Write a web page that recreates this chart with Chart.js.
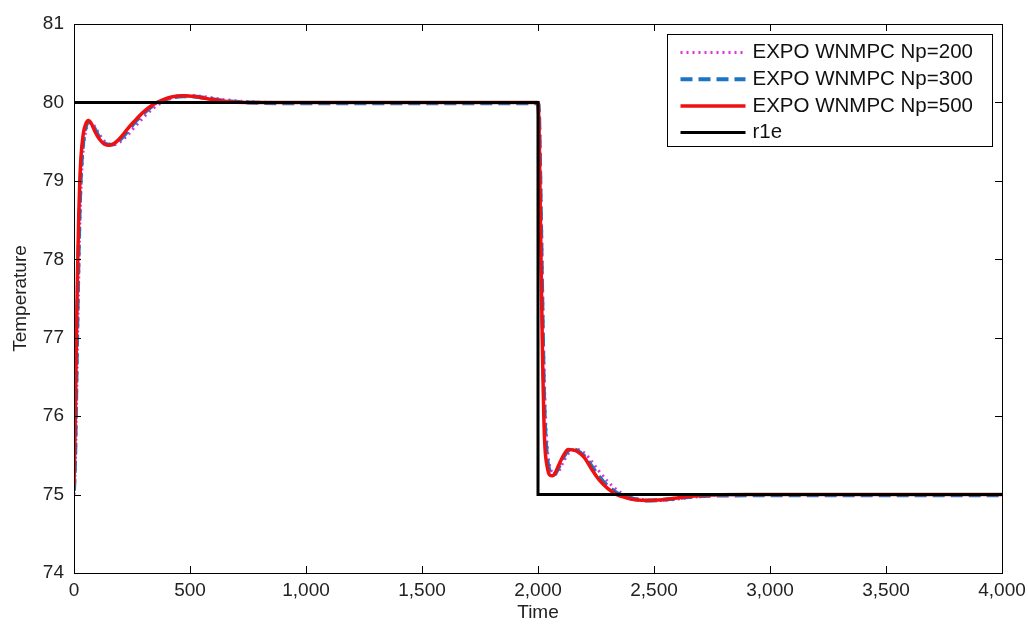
<!DOCTYPE html>
<html><head><meta charset="utf-8">
<script src="https://cdn.jsdelivr.net/npm/chart.js@4.4.1/dist/chart.umd.min.js"></script>
<style>html,body{margin:0;padding:0;background:#fff;}#wrap{width:1028px;height:624px;}</style>
</head><body><div id="wrap"><canvas id="c" width="1028" height="624"></canvas></div>
<script>
// ---- data ----
const time = [0,5,10,15,20,25,30,40,50,62,75,90,110,130,150,170,200,230,260,300,340,380,420,470,520,580,650,750,900,1200,1600,1990,
  2000,2005,2010,2015,2020,2025,2030,2040,2050,2062,2075,2090,2110,2130,2150,2170,2200,2230,2260,2300,2340,2380,2420,2470,2520,2580,2650,2750,2900,3200,3600,4000];
const np200 = [75.0,75.3,76.0,76.9,77.7,78.4,78.9,79.4,79.62,79.72,79.74,79.69,79.59,79.51,79.47,79.46,79.5,79.58,79.68,79.81,79.92,80.0,80.05,80.08,80.085,80.065,80.035,80.01,80.0,80.0,80.0,80.0,
  80.0,79.9,79.3,78.5,77.6,76.8,76.2,75.6,75.37,75.28,75.26,75.3,75.42,75.52,75.57,75.575,75.53,75.43,75.31,75.17,75.06,74.99,74.95,74.93,74.925,74.935,74.96,74.99,75.0,75.0,75.0,75.0];
const np300 = [75.05,75.5,76.4,77.3,78.1,78.7,79.1,79.5,79.68,79.75,79.74,79.66,79.55,79.48,79.46,79.465,79.53,79.63,79.74,79.86,79.96,80.02,80.06,80.08,80.075,80.05,80.02,80.0,79.99,79.99,79.99,79.99,
  79.99,79.8,79.0,78.1,77.2,76.4,75.9,75.45,75.3,75.25,75.27,75.35,75.48,75.56,75.575,75.56,75.49,75.37,75.24,75.11,75.02,74.97,74.94,74.925,74.93,74.945,74.97,74.985,74.99,74.99,74.99,74.99];
const np500 = [75.1,75.9,76.9,77.8,78.5,79.0,79.3,79.6,79.72,79.77,79.73,79.63,79.53,79.47,79.455,79.47,79.55,79.66,79.76,79.88,79.97,80.03,80.07,80.085,80.075,80.045,80.015,80.0,80.0,80.0,80.0,80.0,
  80.0,79.6,78.6,77.6,76.7,76.0,75.6,75.35,75.25,75.24,75.28,75.38,75.5,75.575,75.57,75.55,75.47,75.33,75.2,75.08,75.0,74.96,74.935,74.925,74.93,74.95,74.975,74.995,75.0,75.0,75.0,75.0];
const refTime = [0,2000,2000,4000];
const refValue = [80,80,75,75];
const seriesNames = ['EXPO WNMPC Np=200','EXPO WNMPC Np=300','EXPO WNMPC Np=500','r1e'];
const xTicks = [0,500,1000,1500,2000,2500,3000,3500,4000];
const yTicks = [74,75,76,77,78,79,80,81];

const FONT = '"Liberation Sans", Arial, Helvetica, sans-serif';
const pts = (xs, ys) => xs.map((x, i) => ({x, y: ys[i]}));

const boxTicksPlugin = {
  id: 'boxTicks',
  afterDatasetsDraw(chart) {
    const {ctx, chartArea: a, scales: {x, y}} = chart;
    ctx.save();
    ctx.strokeStyle = '#000'; ctx.lineWidth = 1;
    ctx.strokeRect(Math.round(a.left) + 0.5, Math.round(a.top) + 0.5, Math.round(a.right - a.left), Math.round(a.bottom - a.top));
    const L = 7;
    ctx.beginPath();
    xTicks.forEach(v => {
      const px = Math.round(x.getPixelForValue(v)) + 0.5;
      ctx.moveTo(px, a.bottom); ctx.lineTo(px, a.bottom - L);
      ctx.moveTo(px, a.top); ctx.lineTo(px, a.top + L);
    });
    yTicks.forEach(v => {
      const py = Math.round(y.getPixelForValue(v)) + 0.5;
      ctx.moveTo(a.left, py); ctx.lineTo(a.left + L, py);
      ctx.moveTo(a.right, py); ctx.lineTo(a.right - L, py);
    });
    ctx.stroke();
    ctx.restore();
  }
};

const legendPlugin = {
  id: 'matlabLegend',
  afterDraw(chart) {
    const {ctx, chartArea: a} = chart;
    const w = 325, h = 112;
    const x0 = Math.round(a.right - 10 - w) + 0.5, y0 = Math.round(a.top + 10) + 0.5;
    ctx.save();
    ctx.fillStyle = '#fff';
    ctx.fillRect(x0, y0, w, h);
    ctx.strokeStyle = '#000'; ctx.lineWidth = 1; ctx.setLineDash([]);
    ctx.strokeRect(x0, y0, w, h);
    chart.data.datasets.forEach((ds, i) => {
      const cy = y0 + 18 + i * 26.7;
      ctx.save();
      ctx.strokeStyle = ds.borderColor;
      ctx.lineWidth = ds.borderWidth;
      ctx.setLineDash(ds.borderDash || []);
      ctx.beginPath(); ctx.moveTo(x0 + 13, cy); ctx.lineTo(x0 + 78, cy); ctx.stroke();
      ctx.restore();
      ctx.fillStyle = '#111';
      ctx.font = '20.5px ' + FONT;
      ctx.textBaseline = 'middle'; ctx.textAlign = 'left';
      ctx.fillText(ds.label, x0 + 85, cy);
    });
    ctx.restore();
  }
};

new Chart(document.getElementById('c'), {
  type: 'line',
  data: {
    datasets: [
      {label: seriesNames[0], data: pts(time, np200), borderColor: '#dd33dd', borderWidth: 3, borderDash: [2, 4], order: 3},
      {label: seriesNames[1], data: pts(time, np300), borderColor: '#1b75c4', borderWidth: 4, borderDash: [12, 6], order: 2},
      {label: seriesNames[2], data: pts(time, np500), borderColor: '#ee1111', borderWidth: 3.5, order: 1},
      {label: seriesNames[3], data: pts(refTime, refValue), borderColor: '#000000', borderWidth: 3, order: 0, cubicInterpolationMode: 'default', tension: 0}
    ]
  },
  options: {
    responsive: false, animation: false, devicePixelRatio: 1,
    elements: {point: {radius: 0}, line: {cubicInterpolationMode: 'monotone', fill: false}},
    layout: {padding: {top: 24, right: 26, bottom: 0, left: 0}},
    plugins: {legend: {display: false}, tooltip: {enabled: false}},
    scales: {
      x: {
        type: 'linear', min: 0, max: 4000,
        afterBuildTicks: s => { s.ticks = xTicks.map(v => ({value: v})); },
        grid: {display: false, drawTicks: false}, border: {display: false},
        ticks: {padding: 6, autoSkip: false, maxRotation: 0, color: '#222', font: {family: FONT, size: 19},
          callback: v => Number(v).toLocaleString('en-US')},
        title: {display: true, text: 'Time', color: '#222', font: {family: FONT, size: 19}, padding: {top: 0, bottom: 0}},
        afterFit: s => { s.height = 51; s.paddingLeft = 0; s.paddingRight = 0; }
      },
      y: {
        type: 'linear', min: 74, max: 81,
        afterBuildTicks: s => { s.ticks = yTicks.map(v => ({value: v})); },
        grid: {display: false, drawTicks: false}, border: {display: false},
        ticks: {padding: 10, color: '#222', font: {family: FONT, size: 19}},
        title: {display: true, text: 'Temperature', color: '#222', font: {family: FONT, size: 19}, padding: {top: 9, bottom: 0}},
        afterFit: s => { s.width = 74; s.paddingTop = 0; s.paddingBottom = 0; }
      }
    }
  },
  plugins: [boxTicksPlugin, legendPlugin]
});
</script></body></html>
